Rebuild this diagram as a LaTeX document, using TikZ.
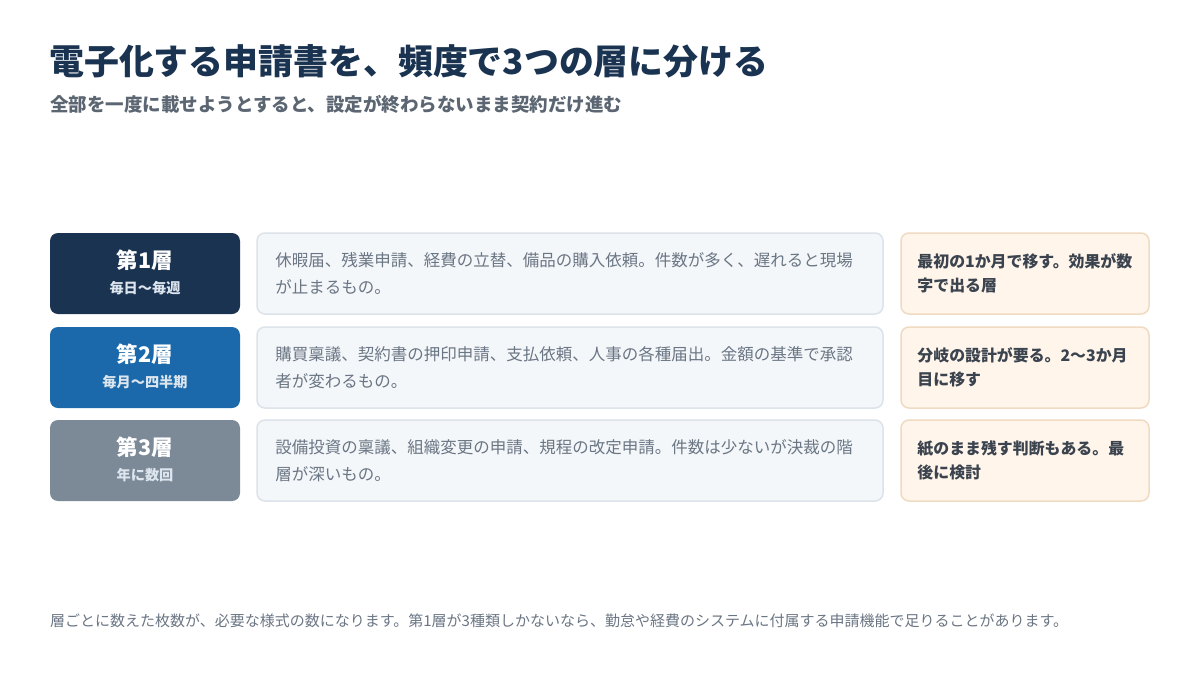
\documentclass[tikz,border=0pt]{standalone}
\usepackage{fontspec}
\setmainfont{Noto Sans CJK JP}
\definecolor{navy}{HTML}{1A3350}
\definecolor{tblue}{HTML}{1B69AA}
\definecolor{tgray}{HTML}{7C8A98}
\definecolor{midfill}{HTML}{F4F7FA}
\definecolor{midline}{HTML}{DCE3EA}
\definecolor{rfill}{HTML}{FFF5EB}
\definecolor{rline}{HTML}{F0DBC2}
\definecolor{titlecol}{HTML}{1A3350}
\definecolor{subcol}{HTML}{5B6672}
\definecolor{bodycol}{HTML}{6B7684}
\definecolor{rtext}{HTML}{3A434E}
\definecolor{lsub}{HTML}{DDE5EE}
\begin{document}
\begin{tikzpicture}[x=1pt,y=-1pt,
  tierbox/.style={rounded corners=8pt,minimum width=190pt,minimum height=81pt,inner sep=0pt},
  midbox/.style={draw=midline,line width=1.5pt,fill=midfill,rounded corners=8pt,minimum width=626pt,minimum height=81pt,inner sep=0pt},
  rbox/.style={draw=rline,line width=1.5pt,fill=rfill,rounded corners=8pt,minimum width=248pt,minimum height=81pt,inner sep=0pt},
  tiername/.style={text=white,font=\fontsize{21.5}{24}\selectfont\bfseries,inner sep=0pt},
  tierfreq/.style={text=lsub,font=\fontsize{14.2}{16}\selectfont\bfseries,inner sep=0pt},
  midtext/.style={text=bodycol,font=\fontsize{16.5}{27}\selectfont,align=left,inner sep=0pt,anchor=west},
  rtxt/.style={text=rtext,font=\fontsize{15.9}{24}\selectfont\bfseries,align=left,inner sep=0pt,anchor=west}]
\useasboundingbox[fill=white] (0,0) rectangle (1200,675);
\node[anchor=west,inner sep=0pt,text=titlecol,font=\fontsize{34.9}{40}\selectfont\bfseries] (title) at (49,61) {電子化する申請書を、頻度で3つの層に分ける};
\node[anchor=west,inner sep=0pt,text=subcol,font=\fontsize{18.5}{22}\selectfont\bfseries] (subtitle) at (50,104) {全部を一度に載せようとすると、設定が終わらないまま契約だけ進む};
% row 1
\node[tierbox,fill=navy] (t1) at (145,273.5) {};
\node[tiername] (t1n) at ([yshift=13.5pt]t1.center) {第1層};
\node[tierfreq] (t1f) at ([yshift=-14.5pt]t1.center) {毎日〜毎週};
\node[midbox] (m1) at (570,273.5) {};
\node[midtext] (m1t) at ([xshift=19pt]m1.west) {休暇届、残業申請、経費の立替、備品の購入依頼。件数が多く、遅れると現場\\が止まるもの。};
\node[rbox] (r1) at (1025,273.5) {};
\node[rtxt] (r1t) at ([xshift=17pt]r1.west) {最初の1か月で移す。効果が数\\字で出る層};
% row 2
\node[tierbox,fill=tblue] (t2) at (145,367.5) {};
\node[tiername] (t2n) at ([yshift=13.5pt]t2.center) {第2層};
\node[tierfreq] (t2f) at ([yshift=-14.5pt]t2.center) {毎月〜四半期};
\node[midbox] (m2) at (570,367.5) {};
\node[midtext] (m2t) at ([xshift=19pt]m2.west) {購買稟議、契約書の押印申請、支払依頼、人事の各種届出。金額の基準で承認\\者が変わるもの。};
\node[rbox] (r2) at (1025,367.5) {};
\node[rtxt] (r2t) at ([xshift=17pt]r2.west) {分岐の設計が要る。2〜3か月\\目に移す};
% row 3
\node[tierbox,fill=tgray] (t3) at (145,460.5) {};
\node[tiername] (t3n) at ([yshift=13.5pt]t3.center) {第3層};
\node[tierfreq] (t3f) at ([yshift=-14.5pt]t3.center) {年に数回};
\node[midbox] (m3) at (570,460.5) {};
\node[midtext] (m3t) at ([xshift=19pt]m3.west) {設備投資の稟議、組織変更の申請、規程の改定申請。件数は少ないが決裁の階\\層が深いもの。};
\node[rbox] (r3) at (1025,460.5) {};
\node[rtxt] (r3t) at ([xshift=17pt]r3.west) {紙のまま残す判断もある。最\\後に検討};
% footer
\node[anchor=west,inner sep=0pt,text=bodycol,font=\fontsize{15}{18}\selectfont] (foot) at (50,621) {層ごとに数えた枚数が、必要な様式の数になります。第1層が3種類しかないなら、勤怠や経費のシステムに付属する申請機能で足りることがあります。};
\end{tikzpicture}
\end{document}
